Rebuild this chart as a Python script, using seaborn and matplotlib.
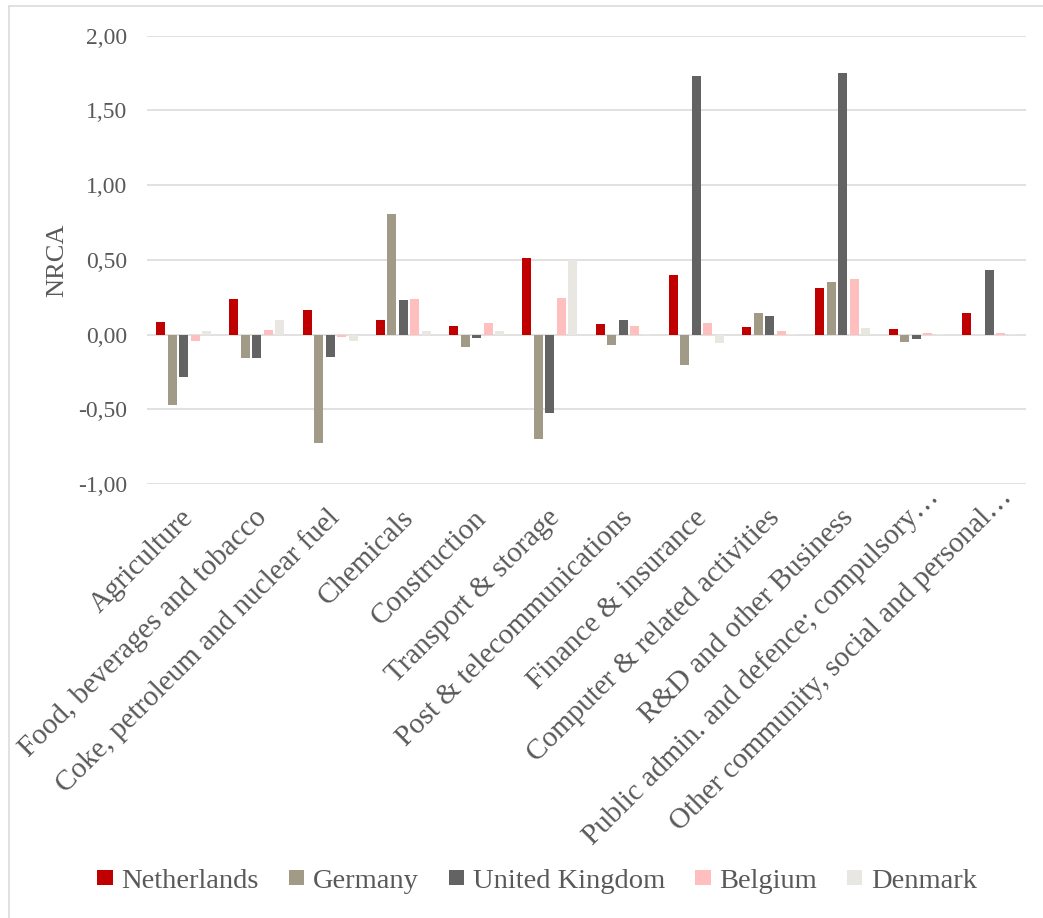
import numpy as np
import pandas as pd
import matplotlib
matplotlib.use("Agg")
import matplotlib.pyplot as plt
import matplotlib.transforms as mtransforms
from matplotlib.lines import Line2D
import seaborn as sns

sectors = [
    "Agriculture",
    "Food, beverages and tobacco",
    "Coke, petroleum and nuclear fuel",
    "Chemicals",
    "Construction",
    "Transport & storage",
    "Post & telecommunications",
    "Finance & insurance",
    "Computer & related activities",
    "R&D and other Business",
    "Public admin. and defence; compulsory\u2026",
    "Other community, social and personal\u2026",
]
countries = ["Netherlands", "Germany", "United Kingdom", "Belgium", "Denmark"]

netherlands = [0.084, 0.239, 0.163, 0.098, 0.056, 0.513, 0.074, 0.397, 0.049, 0.310, 0.038, 0.143]
germany     = [-0.470, -0.154, -0.724, 0.806, -0.085, -0.700, -0.067, -0.201, 0.143, 0.355, -0.049, -0.005]
uk          = [-0.286, -0.155, -0.147, 0.232, -0.023, -0.528, 0.100, 1.731, 0.123, 1.751, -0.027, 0.429]
belgium     = [-0.043, 0.031, -0.013, 0.241, 0.076, 0.243, 0.060, 0.078, 0.024, 0.369, 0.009, 0.008]
denmark     = [0.024, 0.096, -0.043, 0.024, 0.022, 0.496, 0.003, -0.058, 0.002, 0.042, 0.004, 0.005]

colors = ["#C00000", "#A19A86", "#636363", "#FFBFBF", "#E8E7E2"]
ytick_vals = [-1.0, -0.5, 0.0, 0.5, 1.0, 1.5, 2.0]

series = [netherlands, germany, uk, belgium, denmark]
rows = []
for c, vals in zip(countries, series):
    for s, v in zip(sectors, vals):
        rows.append({"sector": s, "country": c, "value": v})
df = pd.DataFrame(rows)

sns.set_style("white")
plt.rcParams["font.family"] = ["Liberation Serif", "DejaVu Serif"]
text_color = "#595959"

W, H = 1043, 918
fig = plt.figure(figsize=(W / 100, H / 100), dpi=100)
ax_left, ax_right, ax_top, ax_bottom = 147, 1026, 35.7, 484
ax = fig.add_axes([ax_left / W, 1 - ax_bottom / H, (ax_right - ax_left) / W, (ax_bottom - ax_top) / H])

sns.barplot(data=df, x="sector", y="value", hue="country", order=sectors,
            hue_order=countries, palette=colors, saturation=1, width=0.785,
            gap=0.22, ax=ax, errorbar=None, linewidth=0)

handles, labels = ax.get_legend_handles_labels()
if ax.get_legend() is not None:
    ax.get_legend().remove()

ax.set_ylim(-1.0, 2.0)
ax.set_xlim(-0.5, len(sectors) - 0.5)
ax.set_yticks(ytick_vals)
ax.set_yticklabels([f"{v:.2f}".replace(".", ",") for v in ytick_vals])
ax.grid(axis="y", color="#D9D9D9", linewidth=1.1)
ax.grid(axis="x", visible=False)
ax.set_axisbelow(True)
for sp in ax.spines.values():
    sp.set_visible(False)
ax.tick_params(axis="y", length=0, pad=14.5, labelsize=17, labelcolor=text_color)
ax.tick_params(axis="x", length=0, pad=0, labelsize=21, labelcolor=text_color)

ax.set_xlabel("")
ax.set_ylabel("NRCA", fontsize=19, color=text_color)
ax.yaxis.set_label_coords(-0.090, 0.5)

ax.set_xticks(range(len(sectors)))
ax.set_xticklabels(sectors, rotation=45, ha="right", va="baseline", rotation_mode="anchor")
for lab in ax.get_xticklabels():
    if lab.get_text().endswith("\u2026"):
        dx, dy = 24, 14
    else:
        dx, dy = 11, 35
    lab.set_transform(lab.get_transform() + mtransforms.ScaledTranslation(dx / 100, -dy / 100, fig.dpi_scale_trans))

fig.legend(handles, labels, loc="center", bbox_to_anchor=(537 / W, 1 - 881 / H),
           ncol=5, frameon=False, fontsize=20.5, labelcolor=text_color,
           handlelength=0.55, handleheight=0.45, handletextpad=0.3, columnspacing=1.05)

fig.add_artist(Line2D([9 / W, 9 / W], [0, 1 - 6 / H], color="#D9D9D9", linewidth=1.1, transform=fig.transFigure))
fig.add_artist(Line2D([9 / W, 1], [1 - 6 / H, 1 - 6 / H], color="#D9D9D9", linewidth=1.1, transform=fig.transFigure))

fig.savefig("out.png", dpi=100, facecolor="white")
